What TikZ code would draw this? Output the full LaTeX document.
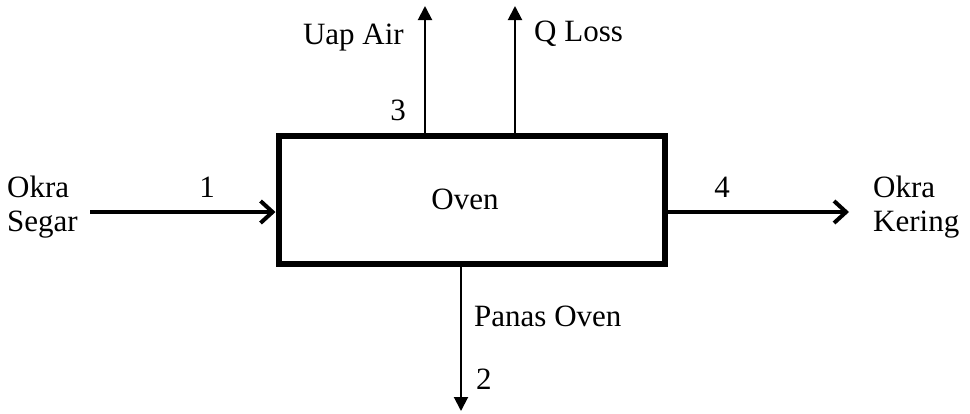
\documentclass[tikz,border=0pt]{standalone}
\usepackage{fontspec}
\setmainfont{Liberation Serif}
\usetikzlibrary{arrows.meta}
\begin{document}
\begin{tikzpicture}[x=1pt,y=-1pt,
  lbl/.style={font=\fontsize{31}{34}\selectfont, inner sep=0pt},
  thickarrow/.style={line width=4pt, -{Straight Barb[length=12pt,width=22pt,line width=4pt]}},
  thinarrow/.style={line width=2pt, -{Triangle[length=14pt,width=14pt]}},
  box/.style={draw, line width=6pt, minimum width=386pt, minimum height=128pt, inner sep=0pt}]
\useasboundingbox (0,0) rectangle (970,413);
\node[box] (oven) at (471.5,200) {};
\node[lbl] (ovtxt) at (465,199) {Oven};
% input left
\coordinate (inL) at (90,212);
\draw[thickarrow] (inL) -- (inL -| oven.west);
\node[lbl, anchor=base west] (okra1) at (7,197) {Okra};
\node[lbl, anchor=base west] (segar) at (7,231) {Segar};
\node[lbl, anchor=base] (n1) at (207,197) {1};
% output right
\coordinate (outR) at (849,212);
\draw[thickarrow] (oven.east |- outR) -- (outR);
\node[lbl, anchor=base west] (okra2) at (873,197) {Okra};
\node[lbl, anchor=base west] (kering) at (873,231) {Kering};
\node[lbl, anchor=base] (n4) at (722,197) {4};
% up arrows
\coordinate (uap) at (425,6);
\coordinate (qloss) at (515,6);
\draw[thinarrow] (oven.north -| uap) -- (uap);
\draw[thinarrow] (oven.north -| qloss) -- (qloss);
\node[lbl, anchor=base east] (uaptxt) at (404,44) {Uap Air};
\node[lbl, anchor=base east] (n3) at (406,120) {3};
\node[lbl, anchor=base west] (qtxt) at (534,41) {Q Loss};
% down arrow
\coordinate (panas) at (461,411);
\draw[thinarrow] (oven.south -| panas) -- (panas);
\node[lbl, anchor=base west] (ptxt) at (474,326) {Panas Oven};
\node[lbl, anchor=base west] (n2) at (476,389) {2};
\end{tikzpicture}
\end{document}
